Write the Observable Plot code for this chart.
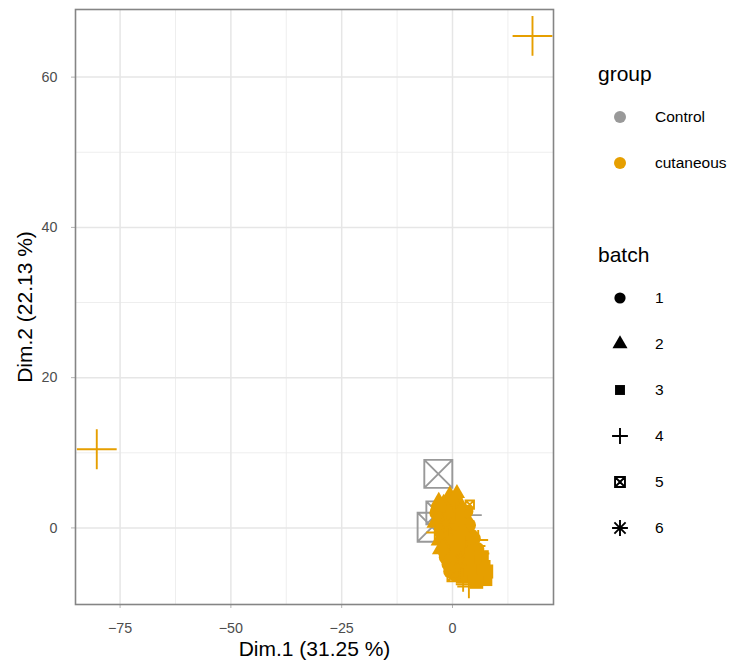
<!DOCTYPE html>
<html><head><meta charset="utf-8">
<script src="https://cdn.jsdelivr.net/npm/d3@7"></script>
<script src="https://cdn.jsdelivr.net/npm/@observablehq/plot@0.6"></script>
<style>
body{margin:0;background:#fff;font-family:"Liberation Sans",Arial,sans-serif;}
#wrap{position:relative;width:736px;height:663px;overflow:hidden;}
#wrap svg{position:absolute;left:0;top:0;}
</style></head><body><div id="wrap"></div>
<script>
// ---- categories & ticks ----
const groups = ["Control", "cutaneous"];
const groupColors = ["#999999", "#E69F00"];
const batches = ["1", "2", "3", "4", "5", "6"];
const xTicks = [-75, -50, -25, 0];
const xMinorTicks = [-62.5, -37.5, -12.5, 12.5];
const yTicks = [0, 20, 40, 60];
const yMinorTicks = [10, 30, 50];
const xLabel = "Dim.1 (31.25 %)";
const yLabel = "Dim.2 (22.13 %)";

// ---- Control individuals ----
const ctrlX = [-3.2, -4.6, -3.3, 3.9, -1.2, 0.8, -2.0, 1.5];
const ctrlY = [7.2, 0.1, 2.0, 1.7, 1.5, -0.5, -1.5, -2.5];
const ctrlBatch = ["5", "5", "5", "4", "1", "2", "3", "1"];
const ctrlContrib = [11.1, 11.9, 7.5, 3.2, 2.0, 2.0, 2.0, 2.0];

// ---- cutaneous individuals ----
const cutX = [18.05, -80.26,
  -0.6, -2.0, 0.6, -3.4, 2.2, 3.9, -3.6, -1.2, 1.0, 3.0,
  -2.4, 0.0, 2.2, 4.2, -2.8, -0.8, 1.2, 3.2, 5.4, -1.6,
  0.4, 2.4, 4.4, 6.4, -0.8, 1.4, 3.2, 5.2, 7.0, 0.6,
  2.4, 4.2, 6.0, 7.4, 0.2, 3.7, 5.4, 2.4, -1.5, 1.8, -4.0, 0.5,
  -3.0, 5.8, 1.0, -2.2,
  -3.1, 1.0, -3.7, 3.2, 3.8, 4.8, -2.6, -1.5, 6.6, -0.5, 7.6, 5.6];
const cutY = [65.48, 10.47,
  4.0, 3.0, 3.0, 2.4, 2.4, 3.1, 0.8, 1.6, 1.2, 0.8,
  -0.2, -0.2, -0.6, -1.0, -1.6, -1.8, -2.0, -2.2, -2.4, -3.2,
  -3.4, -3.6, -3.6, -3.4, -4.8, -5.0, -5.0, -5.0, -5.2, -6.2,
  -6.4, -6.2, -6.4, -6.8, -6.3, -7.8, -7.2, -7.5, 0.5, -4.2, -0.6, 2.2,
  1.2, -1.6, 4.6, -2.6,
  3.5, 3.5, 2.0, 2.2, 0.4, -1.4, -2.8, -3.9, -3.9, -5.8, -5.8, -2.8];
const cutBatch = ["4", "4",
  "2", "2", "1", "1", "2", "5", "2", "1", "3", "1",
  "3", "1", "2", "1", "2", "1", "3", "1", "4", "1",
  "2", "1", "3", "4", "1", "3", "2", "3", "3", "1",
  "3", "3", "3", "3", "5", "4", "3", "4", "6", "6", "4", "4",
  "2", "4", "2", "2",
  "2", "1", "1", "1", "1", "1", "2", "1", "3", "1", "3", "1"];
const cutContrib = [8.8, 8.8,
  2.8, 2.5, 2.8, 2.2, 2.5, 1.0, 2.5, 3.2, 2.8, 2.5,
  2.8, 3.2, 3.0, 2.2, 2.2, 3.0, 3.0, 3.0, 1.8, 2.5,
  3.0, 3.0, 3.0, 1.6, 2.5, 3.0, 3.0, 3.2, 2.8, 2.2,
  3.0, 3.0, 3.2, 2.8, 2.0, 3.0, 2.6, 1.2, 1.5, 1.5, 1.6, 2.0,
  1.6, 2.2, 1.6, 1.6,
  1.8, 2.0, 2.0, 2.0, 2.0, 2.2, 2.0, 2.2, 2.8, 2.2, 2.8, 2.2];

// ---- R-like point symbols ----
const SQRC = 0.88622692545275801364;
function shapeDraw(kind, ctx, r) {
  switch (kind) {
    case "1": ctx.moveTo(r, 0); ctx.arc(0, 0, r, 0, 2 * Math.PI); ctx.closePath(); break;
    case "2": ctx.moveTo(0, -1.5551 * r); ctx.lineTo(1.3468 * r, 0.7776 * r); ctx.lineTo(-1.3468 * r, 0.7776 * r); ctx.closePath(); break;
    case "3": { const h = SQRC * r; ctx.rect(-h, -h, 2 * h, 2 * h); break; }
    case "4": { const a = Math.SQRT2 * r; ctx.moveTo(-a, 0); ctx.lineTo(a, 0); ctx.moveTo(0, -a); ctx.lineTo(0, a); break; }
    case "5": { const h = SQRC * r; ctx.rect(-h, -h, 2 * h, 2 * h); ctx.moveTo(-h, -h); ctx.lineTo(h, h); ctx.moveTo(-h, h); ctx.lineTo(h, -h); break; }
    case "6": { const a = r, b = Math.SQRT2 * r; ctx.moveTo(-a, -a); ctx.lineTo(a, a); ctx.moveTo(-a, a); ctx.lineTo(a, -a); ctx.moveTo(-b, 0); ctx.lineTo(b, 0); ctx.moveTo(0, -b); ctx.lineTo(0, b); break; }
  }
}
const filledKinds = new Set(["1", "2", "3"]);
function symbolFor(kind) {
  return { draw(ctx, size) { shapeDraw(kind, ctx, Math.sqrt(size / Math.PI)); } };
}

function rows(xs, ys, bs, cs) { return xs.map((x, i) => ({ x, y: ys[i], batch: bs[i], contrib: cs[i] })); }
const groupData = [rows(ctrlX, ctrlY, ctrlBatch, ctrlContrib), rows(cutX, cutY, cutBatch, cutContrib)];

const pointMarks = [];
groupData.forEach((data, gi) => {
  batches.forEach(b => {
    const sub = data.filter(d => d.batch === b);
    if (!sub.length) return;
    const filled = filledKinds.has(b);
    pointMarks.push(Plot.dot(sub, {
      x: "x", y: "y", r: "contrib", symbol: symbolFor(b),
      fill: filled ? groupColors[gi] : "none",
      stroke: filled ? "none" : groupColors[gi],
      strokeWidth: 1.9, clip: true
    }));
  });
});

const font = "'Liberation Sans', Arial, sans-serif";
const plot = Plot.plot({
  width: 736, height: 663,
  marginLeft: 75, marginRight: 183, marginTop: 9, marginBottom: 59,
  x: { domain: [-85.06, 22.79] },
  y: { domain: [-10.19, 69.0] },
  r: { type: "sqrt", domain: [0, 10], range: [0, 15] },
  style: { fontFamily: font, background: "white", overflow: "visible" },
  marks: [
    Plot.gridX(xMinorTicks, { stroke: "#ececec", strokeOpacity: 1, strokeWidth: 0.9 }),
    Plot.gridY(yMinorTicks, { stroke: "#ececec", strokeOpacity: 1, strokeWidth: 0.9 }),
    Plot.gridX(xTicks, { stroke: "#e6e6e6", strokeOpacity: 1, strokeWidth: 1.5 }),
    Plot.gridY(yTicks, { stroke: "#e6e6e6", strokeOpacity: 1, strokeWidth: 1.5 }),
    Plot.axisX(xTicks, { tickSize: 4, tickPadding: 14, stroke: "#b3b3b3", fill: "#4d4d4d", fontSize: 14.3, label: null }),
    Plot.axisY(yTicks, { tickSize: 4, tickPadding: 14, stroke: "#b3b3b3", fill: "#4d4d4d", fontSize: 14.3, label: null }),
    ...pointMarks,
    Plot.frame({ stroke: "#858585", strokeWidth: 1.6 }),
    Plot.text([xLabel], { frameAnchor: "bottom", dy: 51, fontSize: 21, fill: "#000" }),
    Plot.text([yLabel], { frameAnchor: "left", dx: -50, rotate: -90, textAnchor: "middle", fontSize: 21, fill: "#000" })
  ]
});
const wrap = document.getElementById("wrap");
wrap.appendChild(plot);

// ---- legend (right side) ----
const leg = d3.select(wrap).append("svg").attr("width", 736).attr("height", 663)
  .style("font-family", font);
leg.append("text").attr("x", 598).attr("y", 81).attr("font-size", 21).attr("fill", "#000").text("group");
groups.forEach((g, i) => {
  const y = 117 + i * 46;
  const p = d3.path(); shapeDraw("1", p, 6);
  leg.append("path").attr("transform", `translate(620,${y})`).attr("d", p.toString()).attr("fill", groupColors[i]);
  leg.append("text").attr("x", 655).attr("y", y).attr("dy", "0.35em").attr("font-size", 15.5).attr("fill", "#000").text(g);
});
leg.append("text").attr("x", 598).attr("y", 262).attr("font-size", 21).attr("fill", "#000").text("batch");
batches.forEach((b, i) => {
  const y = 298 + i * 46;
  const p = d3.path(); shapeDraw(b, p, 5.6);
  const filled = filledKinds.has(b);
  leg.append("path").attr("transform", `translate(620,${y})`).attr("d", p.toString())
    .attr("fill", filled ? "#000" : "none").attr("stroke", filled ? "none" : "#000").attr("stroke-width", 1.9);
  leg.append("text").attr("x", 655).attr("y", y).attr("dy", "0.35em").attr("font-size", 15.5).attr("fill", "#000").text(b);
});
</script></body></html>
